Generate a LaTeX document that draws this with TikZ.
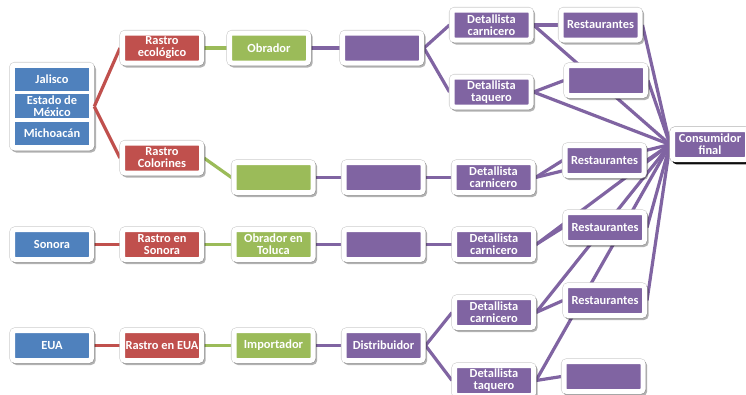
\documentclass[tikz,border=0pt]{standalone}
\usepackage{fontspec}
\setmainfont{Carlito}
\usetikzlibrary{shadows,fit,backgrounds}

\definecolor{azul}{HTML}{4F81BD}
\definecolor{rojo}{HTML}{C0504D}
\definecolor{verde}{HTML}{9BBB59}
\definecolor{morado}{HTML}{8064A2}

\tikzset{
  caja/.style={draw=white, line width=3.75pt, rounded corners=2pt,
    minimum width=59.25pt, minimum height=22.5pt, inner sep=0pt,
    align=center, text=white, font=\bfseries\fontsize{9.3}{9}\selectfont,
    preaction={draw=black!20, line width=4.6pt},
    drop shadow={shadow xshift=1.3pt, shadow yshift=-1.5pt, opacity=0.3,
      draw=black, line width=3.75pt}},
  cajaroja/.style={caja, fill=rojo},
  cajaverde/.style={caja, fill=verde},
  cajamorada/.style={caja, fill=morado},
  cajaazul/.style={fill=azul, minimum width=55.5pt, minimum height=17.6pt,
    inner sep=0pt, align=center, text=white,
    font=\bfseries\fontsize{9.3}{9}\selectfont},
  marco/.style={draw=white, fill=white, line width=3.75pt, rounded corners=2pt,
    inner sep=1.875pt, preaction={draw=black!20, line width=4.6pt},
    drop shadow={shadow xshift=1.3pt, shadow yshift=-1.5pt, opacity=0.3,
      draw=black, line width=3.75pt}},
  consumidor/.style={draw=white, line width=3.75pt, rounded corners=2pt,
    minimum width=56.25pt, minimum height=22.5pt, inner sep=0pt, fill=morado,
    align=center, text=white, font=\bfseries\fontsize{9.3}{9}\selectfont,
    preaction={draw=black!30, line width=4.6pt},
    drop shadow={shadow xshift=1.6pt, shadow yshift=-1.8pt, opacity=0.95,
      draw=black, line width=3.75pt}},
  linroja/.style={rojo, line width=2.4pt},
  linverde/.style={verde, line width=2.4pt},
  linmorada/.style={morado, line width=2.4pt}
}

\begin{document}
\begin{tikzpicture}[x=0.75pt,y=0.75pt,yscale=-1,xscale=1]
\useasboundingbox (0,0) rectangle (746,394);

% Origen
\node[cajaazul] (jal) at (52,79.5) {Jalisco};
\node[cajaazul] (edo) at (52,106) {Estado de\\México};
\node[cajaazul] (mich) at (52,133.5) {Michoacán};
\node[caja, fill=azul] (son) at (52,244.5) {Sonora};
\node[caja, fill=azul] (eua) at (52,345.5) {EUA};

% Rastros
\node[cajaroja] (reco) at (162,48) {Rastro\\ecológico};
\node[cajaroja] (rcol) at (162,158) {Rastro\\Colorines};
\node[cajaroja] (rson) at (162,244.5) {Rastro en\\Sonora};
\node[cajaroja] (reua) at (162,345.5) {Rastro en EUA};

% Obradores
\node[cajaverde] (obr) at (269,48) {Obrador};
\node[cajaverde] (ver2) at (273.5,177.5) {};
\node[cajaverde] (obt) at (273.5,244.5) {Obrador en\\Toluca};
\node[cajaverde] (imp) at (273.5,345.5) {Importador};

% Mayoreo
\node[cajamorada] (mor1) at (382,48) {};
\node[cajamorada] (mor2) at (383.5,177.5) {};
\node[cajamorada] (mor3) at (383.5,244.5) {};
\node[cajamorada] (dist) at (383.5,345.5) {Distribuidor};

% Detallistas
\node[cajamorada] (dc1) at (491.5,25) {Detallista\\carnicero};
\node[cajamorada] (dt1) at (491.5,92) {Detallista\\taquero};
\node[cajamorada] (dc2) at (493.5,177.5) {Detallista\\carnicero};
\node[cajamorada] (dc3) at (494,244.5) {Detallista\\carnicero};
\node[cajamorada] (dc4) at (494,312.5) {Detallista\\carnicero};
\node[cajamorada] (dt4) at (494,380.5) {Detallista\\taquero};

% Restaurantes
\node[cajamorada] (rest1) at (600.5,25) {Restaurantes};
\node[cajamorada] (vac1) at (606,80.5) {};
\node[cajamorada] (rest2) at (604.5,160.5) {Restaurantes};
\node[cajamorada] (rest3) at (605,227.5) {Restaurantes};
\node[cajamorada] (rest4) at (605,300.5) {Restaurantes};
\node[cajamorada] (vac4) at (603.5,376.5) {};

% Consumidor
\node[consumidor] (cons) at (710,144.5) {Consumidor\\final};

\begin{scope}[on background layer]
\node[marco, fit=(jal)(edo)(mich)] (grp) {};
% Lineas
\draw[linroja] (grp.east) -- (reco.west);
\draw[linroja] (grp.east) -- (rcol.west);
\draw[linroja] (son) -- (rson);
\draw[linroja] (eua) -- (reua);
\draw[linverde] (reco) -- (obr);
\draw[linverde] (rcol.east) -- (ver2.west);
\draw[linverde] (rson) -- (obt);
\draw[linverde] (reua) -- (imp);
\draw[linmorada] (obr) -- (mor1);
\draw[linmorada] (mor1.east) -- (dc1.west);
\draw[linmorada] (mor1.east) -- (dt1.west);
\draw[linmorada] (dc1.east) -- (rest1.west);
\draw[linmorada] (dt1.east) -- (vac1.west);
\draw[linmorada] (ver2) -- (mor2);
\draw[linmorada] (mor2) -- (dc2);
\draw[linmorada] (dc2.east) -- (rest2.west);
\draw[linmorada] (obt) -- (mor3);
\draw[linmorada] (mor3) -- (dc3);
\draw[linmorada] (dc3.east) -- (rest3.west);
\draw[linmorada] (imp) -- (dist);
\draw[linmorada] (dist.east) -- (dc4.west);
\draw[linmorada] (dist.east) -- (dt4.west);
\draw[linmorada] (dc4.east) -- (rest4.west);
\draw[linmorada] (dt4.east) -- (vac4.west);
% Al consumidor
\foreach \n in {dc1,dt1,dc2,dc3,dc4,dt4,rest1,vac1,rest2,rest3,rest4}
  \draw[linmorada] (\n.east) -- (cons.west);
\end{scope}

\end{tikzpicture}
\end{document}
